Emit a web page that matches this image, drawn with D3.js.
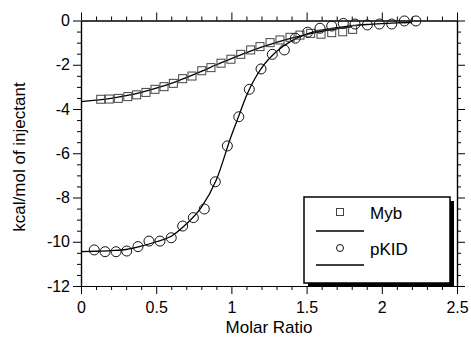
<!DOCTYPE html>
<html>
<head>
<meta charset="utf-8">
<script src="https://cdn.jsdelivr.net/npm/d3@7"></script>
<style>
  body { margin: 0; background: #fff; }
  svg { display: block; }
  text { font-family: "Liberation Sans", Arial, Helvetica, sans-serif; fill: #000; }
</style>
</head>
<body>
<div id="chart"></div>
<script>
// Myb titration (squares)
const mybX = [0.131, 0.188, 0.248, 0.311, 0.370, 0.432, 0.492, 0.552, 0.614, 0.676, 0.738, 0.803, 0.864, 0.931,
  0.997, 1.062, 1.128, 1.190, 1.257, 1.323, 1.390, 1.456, 1.527, 1.596, 1.667, 1.740, 1.806]
const mybY = [-3.56, -3.55, -3.52, -3.44, -3.36, -3.25, -3.11, -2.99, -2.84, -2.63, -2.51, -2.27, -2.13, -1.93,
  -1.75, -1.53, -1.33, -1.18, -1.00, -0.88, -0.76, -0.66, -0.58, -0.62, -0.55, -0.51, -0.40]
// Myb fit line
const mybFitX = [0, 0.1, 0.2, 0.3, 0.4, 0.5, 0.6, 0.7, 0.8, 0.9, 1.0, 1.1, 1.2, 1.3, 1.4, 1.5, 1.6, 1.7, 1.8]
const mybFitY = [-3.67, -3.60, -3.52, -3.40, -3.25, -3.06, -2.84, -2.58, -2.30, -2.00, -1.72, -1.45, -1.20, -0.99,
  -0.80, -0.63, -0.49, -0.38, -0.29]

// pKID titration (circles)
const pkidX = [0.088, 0.160, 0.233, 0.304, 0.379, 0.452, 0.525, 0.600, 0.676, 0.747, 0.820, 0.893, 0.973, 1.049,
  1.119, 1.197, 1.272, 1.352, 1.425, 1.507, 1.589, 1.667, 1.744, 1.822, 1.904, 1.984, 2.066, 2.150, 2.227]
const pkidY = [-10.37, -10.45, -10.45, -10.42, -10.22, -9.97, -9.97, -9.82, -9.29, -8.91, -8.52, -7.29, -5.67, -4.35,
  -3.11, -2.19, -1.53, -1.33, -0.80, -0.53, -0.35, -0.25, -0.13, -0.16, -0.20, -0.16, -0.16, -0.02, -0.02]
// pKID fit line
const pkidFitX = [0, 0.1, 0.2, 0.3, 0.4, 0.5, 0.6, 0.7, 0.8, 0.9, 1.0, 1.05, 1.1, 1.15, 1.2, 1.3, 1.4, 1.5, 1.6,
  1.7, 1.8, 1.9, 2.0, 2.1, 2.2]
const pkidFitY = [-10.45, -10.43, -10.40, -10.35, -10.20, -10.00, -9.75, -9.20, -8.45, -7.20, -5.20, -4.30, -3.40,
  -2.70, -2.15, -1.40, -0.92, -0.62, -0.44, -0.32, -0.24, -0.18, -0.14, -0.11, -0.09]

const xMajor = [0, 0.5, 1, 1.5, 2, 2.5]
const yMajor = [-12, -10, -8, -6, -4, -2, 0]
const legendLabels = ["Myb", "pKID"]

const W = 471, H = 341
const margin = {top: 20.5, right: 14, bottom: 55, left: 81}

const svg = d3.select("#chart").append("svg")
  .attr("width", W)
  .attr("height", H)

const x = d3.scaleLinear().domain([0, 2.5]).range([margin.left, W - margin.right])
const y = d3.scaleLinear().domain([-12, 0]).range([H - margin.bottom, margin.top])

const xMinor = d3.range(0, 26).map(i => i / 10).filter(v => !xMajor.includes(v))
const yMinor = d3.range(-24, 1).map(i => i / 2).filter(v => !yMajor.includes(v))

function styleAxis(g) {
  g.select(".domain").attr("stroke", "#000").attr("stroke-width", 1.2)
  g.selectAll(".tick line").attr("stroke", "#000").attr("stroke-width", 1)
}

// bottom
svg.append("g").attr("transform", "translate(0," + y(-12) + ")")
  .call(d3.axisBottom(x).tickValues(xMinor).tickSize(4).tickSizeOuter(0).tickFormat(""))
  .call(styleAxis)
svg.append("g").attr("class", "x axis").attr("transform", "translate(0," + y(-12) + ")")
  .call(d3.axisBottom(x).tickValues(xMajor).tickSize(8).tickSizeOuter(0).tickPadding(8).tickFormat(d => d))
  .call(styleAxis)
// top
svg.append("g").attr("transform", "translate(0," + y(0) + ")")
  .call(d3.axisTop(x).tickValues(xMinor).tickSize(4).tickSizeOuter(0).tickFormat(""))
  .call(styleAxis)
svg.append("g").attr("transform", "translate(0," + y(0) + ")")
  .call(d3.axisTop(x).tickValues(xMajor).tickSize(8).tickSizeOuter(0).tickFormat(""))
  .call(styleAxis)
// left
svg.append("g").attr("transform", "translate(" + x(0) + ",0)")
  .call(d3.axisLeft(y).tickValues(yMinor).tickSize(4).tickSizeOuter(0).tickFormat(""))
  .call(styleAxis)
svg.append("g").attr("class", "y axis").attr("transform", "translate(" + x(0) + ",0)")
  .call(d3.axisLeft(y).tickValues(yMajor).tickSize(8).tickSizeOuter(0).tickPadding(3).tickFormat(d => d))
  .call(styleAxis)
// right
svg.append("g").attr("transform", "translate(" + x(2.5) + ",0)")
  .call(d3.axisRight(y).tickValues(yMinor).tickSize(4).tickSizeOuter(0).tickFormat(""))
  .call(styleAxis)
svg.append("g").attr("transform", "translate(" + x(2.5) + ",0)")
  .call(d3.axisRight(y).tickValues(yMajor).tickSize(8).tickSizeOuter(0).tickFormat(""))
  .call(styleAxis)

svg.selectAll(".axis text")
  .attr("font-family", "Liberation Sans, Arial, sans-serif")
  .attr("font-size", 16)
  .attr("fill", "#000")

// axis titles
svg.append("text")
  .attr("x", (x(0) + x(2.5)) / 2)
  .attr("y", 333)
  .attr("text-anchor", "middle")
  .attr("font-size", 17)
  .text("Molar Ratio")
svg.append("text")
  .attr("transform", "translate(25," + 157 + ") rotate(-90)")
  .attr("text-anchor", "middle")
  .attr("font-size", 17)
  .text("kcal/mol of injectant")

// fit lines
const line = d3.line().curve(d3.curveMonotoneX)
  .x(d => x(d[0]))
  .y(d => y(d[1]))

svg.append("path")
  .datum(d3.zip(mybFitX, mybFitY))
  .attr("fill", "none")
  .attr("stroke", "#000")
  .attr("stroke-width", 1.3)
  .attr("d", line)
svg.append("path")
  .datum(d3.zip(pkidFitX, pkidFitY))
  .attr("fill", "none")
  .attr("stroke", "#000")
  .attr("stroke-width", 1.3)
  .attr("d", line)

// markers
svg.append("g").selectAll("rect")
  .data(d3.zip(mybX, mybY))
  .join("rect")
  .attr("x", d => x(d[0]) - 4)
  .attr("y", d => y(d[1]) - 4)
  .attr("width", 8)
  .attr("height", 8)
  .attr("fill", "none")
  .attr("stroke", "#444")
  .attr("stroke-width", 1)

svg.append("g").selectAll("circle")
  .data(d3.zip(pkidX, pkidY))
  .join("circle")
  .attr("cx", d => x(d[0]))
  .attr("cy", d => y(d[1]))
  .attr("r", 5)
  .attr("fill", "none")
  .attr("stroke", "#111")
  .attr("stroke-width", 1)

// legend box with drop shadow
const lg = svg.append("g").attr("transform", "translate(304,197)")
lg.append("rect")
  .attr("x", 4).attr("y", 4)
  .attr("width", 146).attr("height", 86)
  .attr("fill", "#000")
lg.append("rect")
  .attr("width", 146).attr("height", 86)
  .attr("fill", "#fff")
  .attr("stroke", "#000")
  .attr("stroke-width", 1.5)

legendLabels.forEach(function(label, i) {
  let yy = 15 + i * 36
  if (i == 0) {
    lg.append("rect")
      .attr("x", 32.5).attr("y", yy - 3.5)
      .attr("width", 7).attr("height", 7)
      .attr("fill", "none").attr("stroke", "#444")
  } else {
    lg.append("circle")
      .attr("cx", 36).attr("cy", yy)
      .attr("r", 3.5)
      .attr("fill", "none").attr("stroke", "#111")
  }
  lg.append("text")
    .attr("x", 66).attr("y", yy + 7)
    .attr("font-size", 17)
    .text(label)
  lg.append("line")
    .attr("x1", 12).attr("x2", 60)
    .attr("y1", yy + 19 - i * 2).attr("y2", yy + 19 - i * 2)
    .attr("stroke", "#000")
    .attr("stroke-width", 1.3)
})
</script>
</body>
</html>
